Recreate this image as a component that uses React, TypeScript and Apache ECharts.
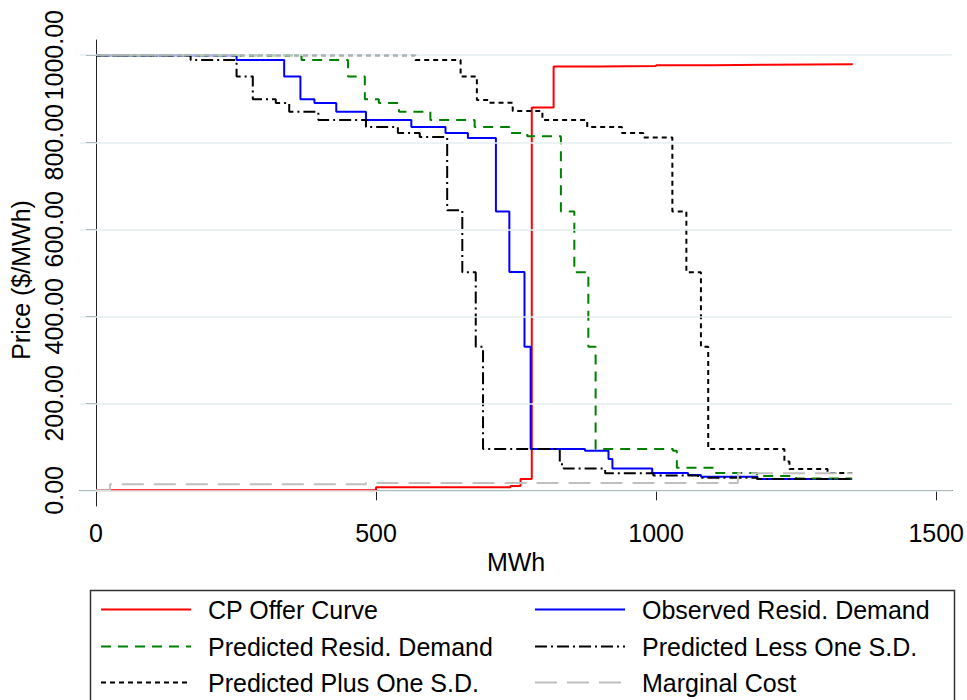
import React, { useEffect, useRef } from "react";
import * as echarts from "echarts";

const FONT = "'Liberation Sans', Arial, Helvetica, sans-serif";

const xTicks = [0, 500, 1000, 1500];
const yTicks = [0, 200, 400, 600, 800, 1000];

const seriesNames = [
  "CP Offer Curve",
  "Observed Resid. Demand",
  "Predicted Resid. Demand",
  "Predicted Less One S.D.",
  "Predicted Plus One S.D.",
  "Marginal Cost",
];

// [MWh, $/MWh] step breakpoints (value holds until next MWh)
const offerCurve: [number, number][] = [
  [0, 0], [500, 7], [740, 10], [758, 26], [778, 880], [817, 974],
  [900, 975], [1000, 977], [1100, 978], [1200, 979], [1350, 981],
];

const observedDemand: [number, number][] = [
  [0, 1000], [251, 989], [336, 951], [365, 899], [390, 890], [429, 870],
  [482, 851], [563, 835], [624, 821], [664, 810], [714, 641], [738, 502],
  [765, 330], [776, 95], [873, 91], [915, 72], [922, 50], [993, 40],
  [1057, 35], [1080, 31], [1181, 26], [1350, 25],
];

const predictedDemand: [number, number][] = [
  [0, 1000], [367, 989], [450, 951], [480, 899], [505, 890], [541, 870],
  [597, 851], [676, 835], [738, 821], [770, 814], [830, 641], [854, 501],
  [879, 330], [892, 95], [1030, 91], [1037, 52], [1105, 40], [1180, 33],
  [1250, 27], [1350, 26],
];

const lessOneSD: [number, number][] = [
  [0, 1000], [169, 989], [251, 951], [280, 899], [321, 890], [345, 870],
  [397, 851], [482, 835], [539, 821], [578, 812], [627, 644], [654, 501],
  [678, 330], [691, 95], [828, 60], [835, 50], [909, 39], [995, 34],
  [1075, 29], [1180, 26], [1350, 25],
];

const plusOneSD: [number, number][] = [
  [0, 1000], [570, 989], [651, 951], [680, 897], [701, 891], [744, 872],
  [797, 851], [877, 835], [939, 821], [977, 811], [1029, 641], [1054, 501],
  [1080, 330], [1093, 95], [1229, 66], [1238, 49], [1306, 40], [1350, 40],
];

const marginalCost: [number, number][] = [
  [0, 0], [25, 14], [482, 17], [1140, 17], [1146, 39], [1350, 39],
];

const seriesData = [offerCurve, observedDemand, predictedDemand, lessOneSD, plusOneSD, marginalCost];
const seriesColors = ["#ff0000", "#0000ff", "#008000", "#000000", "#000000", "#c0c0c0"];
const seriesDash: (string | number[])[] = ["solid", "solid", [10, 7], [12, 4, 2, 4], [5, 4], [22, 10]];

const legendCols = [100, 534];
const legendRows = [597, 634, 670];

export default function App() {
  const ref = useRef<HTMLDivElement>(null);

  useEffect(() => {
    if (!ref.current) return;
    const chart = echarts.init(ref.current, undefined, { renderer: "svg" });

    const series: any[] = [
      {
        type: "line",
        name: "__grid",
        data: [],
        silent: true,
        markLine: {
          silent: true,
          symbol: ["none", "none"],
          label: { show: false },
          lineStyle: { type: "solid", color: "#e4eef1", width: 1.5 },
          data: yTicks.map((v) => ({ yAxis: v })),
        },
      },
    ];
    seriesNames.forEach((name, i) => {
      series.push({
        type: "line",
        name,
        data: seriesData[i],
        step: "end",
        symbol: "none",
        showSymbol: false,
        lineStyle: { color: seriesColors[i], width: 2, type: seriesDash[i] },
        itemStyle: { color: seriesColors[i] },
      });
    });

    const legends: any[] = seriesNames.map((name, i) => ({
      data: [name],
      left: legendCols[i % 2],
      top: legendRows[Math.floor(i / 2)],
      orient: "horizontal",
      padding: 0,
      itemGap: 0,
      itemWidth: 90,
      itemHeight: 14,
      selectedMode: false,
      itemStyle: { opacity: 0 },
      lineStyle: { width: 2 },
      textStyle: { fontSize: 25, color: "#000", fontFamily: FONT, padding: [0, 0, 0, 12] },
    }));

    chart.setOption({
      animation: false,
      backgroundColor: "#ffffff",
      textStyle: { fontFamily: FONT },
      grid: { left: 80, right: 12, top: 40, bottom: 194, containLabel: false },
      legend: legends,
      xAxis: {
        type: "value",
        min: -28.5,
        max: 1528.5,
        axisLine: { show: true, lineStyle: { color: "#222", width: 1 } },
        axisTick: { show: true, length: 10, customValues: xTicks, lineStyle: { color: "#222" } },
        axisLabel: {
          customValues: xTicks,
          margin: 14,
          fontSize: 25,
          color: "#000",
          fontFamily: FONT,
          formatter: (v: number) => String(Math.round(Number(v))),
        },
        splitLine: { show: false },
        name: "MWh",
        nameLocation: "middle",
        nameGap: 40,
        nameTextStyle: { fontSize: 25, color: "#000", fontFamily: FONT },
      },
      yAxis: {
        type: "value",
        min: -36,
        max: 1035,
        axisLine: { show: true, lineStyle: { color: "#222", width: 1 } },
        axisTick: { show: true, length: 10, customValues: yTicks, lineStyle: { color: "#222" } },
        axisLabel: {
          customValues: yTicks,
          rotate: 90,
          margin: 14,
          fontSize: 25,
          color: "#000",
          fontFamily: FONT,
          formatter: (v: number) => Number(v).toFixed(2),
        },
        splitLine: { show: false },
        name: "Price ($/MWh)",
        nameLocation: "middle",
        nameRotate: 90,
        nameGap: 44,
        nameTextStyle: { fontSize: 25, color: "#000", fontFamily: FONT, padding: [0, 14, 0, 0] },
      },
      graphic: [
        {
          type: "rect",
          left: 88,
          top: 588,
          shape: { width: 864, height: 130 },
          style: { fill: "none", stroke: "#333", lineWidth: 1.5 },
          silent: true,
        },
      ],
      series,
    });

    return () => chart.dispose();
  }, []);

  return (
    <div
      ref={ref}
      style={{ position: "fixed", left: 0, top: 0, width: 967, height: 700, background: "#fff" }}
    />
  );
}
